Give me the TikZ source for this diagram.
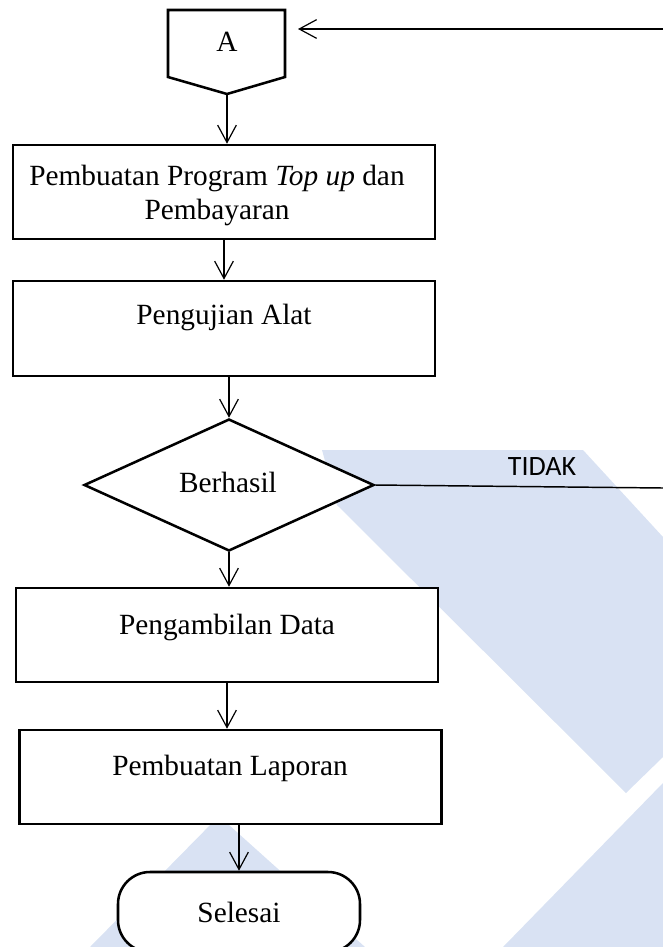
\documentclass[tikz,border=0pt]{standalone}
\usepackage{fontspec}
\setmainfont{Liberation Serif}
\newfontfamily\labelfont{Carlito}
\usetikzlibrary{arrows.meta,shapes.geometric}
\definecolor{markblue}{RGB}{217,226,243}
\begin{document}
\begin{tikzpicture}[x=0.75pt, y=-0.75pt,
    box/.style={draw, line width=1.9pt, fill=white, minimum width=316.5pt, minimum height=70.5pt, inner sep=0pt},
    txt/.style={font=\fontsize{22}{25.5}\selectfont, align=center, inner sep=0pt},
    flow/.style={line width=0.9pt, -{Straight Barb[length=13pt, width=14pt]}}]
    \useasboundingbox (0,0) rectangle (663,947);
    % watermark
    \fill[markblue] (322,450) -- (583,450) -- (663,537) -- (663,757) -- (626,793) -- (337,505) -- cycle;
    \fill[markblue] (663,783) -- (663,947) -- (503,947) -- cycle;
    \fill[markblue] (219,816) -- (365,947) -- (90,947) -- cycle;
    % off-page connector
    \draw[line width=1.9pt] (168,10) -- (285,10) -- (285,77) -- (227,94) -- (168,77) -- cycle;
    \node[txt] (a) at (227,42) {A};
    \coordinate (atip) at (227,94);
    \coordinate (backfrom) at (663,29);
    \coordinate (backto) at (298,29);
    % steps
    \node[box] (b1) at (224,192) {};
    \node[txt] (t1) at (217,195) {Pembuatan Program \textit{Top up} dan\\Pembayaran};
    \node[box, minimum height=71.25pt] (b2) at (224,328.5) {};
    \node[txt] (t2) at (224,317) {Pengujian Alat};
    \node[diamond, draw, line width=1.9pt, fill=white, minimum width=217.5pt, minimum height=99pt, inner sep=0pt] (d) at (229,485) {};
    \node[txt] (td) at (228,482) {Berhasil};
    \node[box] (b3) at (227,635) {};
    \node[txt] (t3) at (227,627) {Pengambilan Data};
    \node[box] (b4) at (230.5,777) {};
    \node[txt] (t4) at (230,768) {Pembuatan Laporan};
    \node[draw, line width=1.9pt, fill=white, rounded corners=24pt, minimum width=181.5pt, minimum height=60pt, txt] (sel) at (239,912) {Selesai};
    % TIDAK branch
    \coordinate (noend) at (663,488);
    \draw[line width=1.1pt] (d.east) -- (noend);
    \node[font=\labelfont\fontsize{21}{25}\selectfont, inner sep=0pt] (tidak) at (542,467) {TIDAK};
    % arrows
    \draw[flow] (backfrom) -- (backto);
    \draw[flow] (atip) -- (atip |- b1.north);
    \draw[flow] (b1.south) -- (b2.north);
    \draw[flow] (d.north |- b2.south) -- (d.north);
    \draw[flow] (d.south) -- (d.south |- b3.north);
    \draw[flow] (b3.south) -- (b3.south |- b4.north);
    \draw[flow] (sel.north |- b4.south) -- (sel.north);
\end{tikzpicture}
\end{document}
